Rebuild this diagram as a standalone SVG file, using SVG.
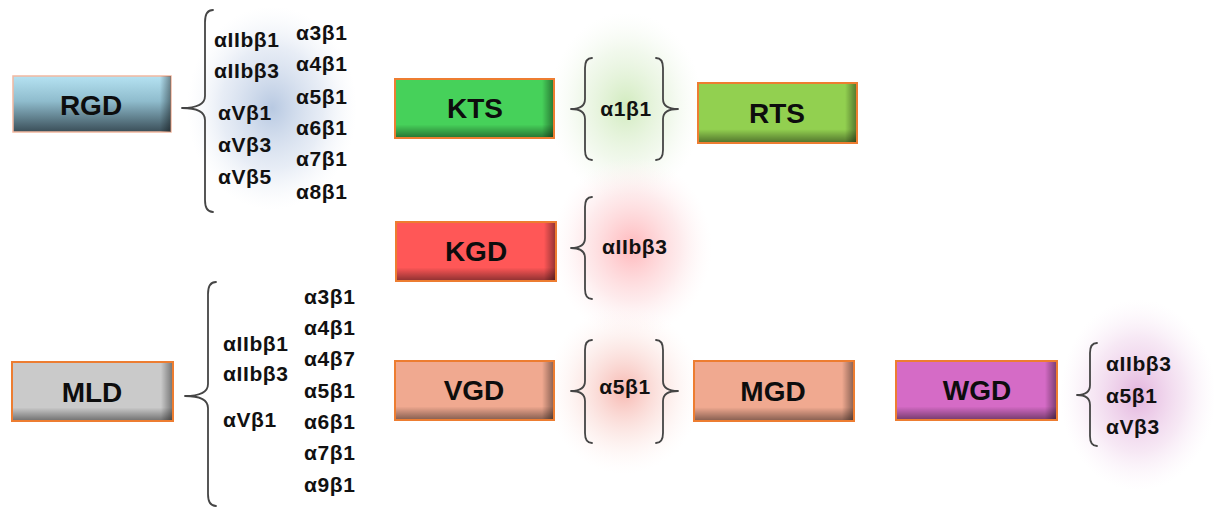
<svg xmlns="http://www.w3.org/2000/svg" width="1214" height="508" viewBox="0 0 1214 508">
  <defs>
    <!-- box fills -->
    <linearGradient id="gRgd" x1="0" y1="0" x2="0" y2="1">
      <stop offset="0" stop-color="#b5e2f2"/>
      <stop offset="0.45" stop-color="#8fbccd"/>
      <stop offset="1" stop-color="#3a4e58"/>
    </linearGradient>
    <!-- bevel shading shared by all boxes -->
    <linearGradient id="shadeV" x1="0" y1="0" x2="0" y2="1">
      <stop offset="0" stop-color="#000" stop-opacity="0"/>
      <stop offset="0.78" stop-color="#000" stop-opacity="0"/>
      <stop offset="1" stop-color="#000" stop-opacity="0.42"/>
    </linearGradient>
    <linearGradient id="shadeH" x1="0" y1="0" x2="1" y2="0">
      <stop offset="0" stop-color="#000" stop-opacity="0"/>
      <stop offset="0.93" stop-color="#000" stop-opacity="0"/>
      <stop offset="1" stop-color="#000" stop-opacity="0.4"/>
    </linearGradient>
    <!-- soft halos behind the integrin lists -->
    <radialGradient id="haloBlue">
      <stop offset="0" stop-color="#b4c6e0" stop-opacity="0.95"/>
      <stop offset="0.6" stop-color="#d4deee" stop-opacity="0.55"/>
      <stop offset="1" stop-color="#eef2f8" stop-opacity="0"/>
    </radialGradient>
    <radialGradient id="haloGreen">
      <stop offset="0" stop-color="#cfeabb" stop-opacity="0.95"/>
      <stop offset="0.6" stop-color="#e8f4e0" stop-opacity="0.6"/>
      <stop offset="1" stop-color="#f5faf2" stop-opacity="0"/>
    </radialGradient>
    <radialGradient id="haloRed">
      <stop offset="0" stop-color="#ffb4b8" stop-opacity="0.95"/>
      <stop offset="0.6" stop-color="#fde0e2" stop-opacity="0.65"/>
      <stop offset="1" stop-color="#fff4f5" stop-opacity="0"/>
    </radialGradient>
    <radialGradient id="haloSalmon">
      <stop offset="0" stop-color="#f6b0a8" stop-opacity="0.9"/>
      <stop offset="0.6" stop-color="#fbe2de" stop-opacity="0.55"/>
      <stop offset="1" stop-color="#fff5f3" stop-opacity="0"/>
    </radialGradient>
    <radialGradient id="haloPurple">
      <stop offset="0" stop-color="#e2b0dc" stop-opacity="0.95"/>
      <stop offset="0.6" stop-color="#f2dcef" stop-opacity="0.65"/>
      <stop offset="1" stop-color="#faf0f9" stop-opacity="0"/>
    </radialGradient>
    <style>
      .box { stroke: #ed7d31; stroke-width: 2; }
      .bevel { stroke: none; }
      .lbl { font-family: "Liberation Sans", Arial, sans-serif; font-weight: bold; font-size: 28px; fill: #0d0d0d; text-anchor: middle; }
      .itg { font-family: "Liberation Sans", Arial, sans-serif; font-weight: bold; font-size: 21px; letter-spacing: 0.6px; fill: #111; }
      .mid { text-anchor: middle; }
      .brace { fill: none; stroke: #454545; stroke-width: 1.8; stroke-linecap: round; stroke-linejoin: round; }
    </style>
  </defs>

  <rect width="1214" height="508" fill="#ffffff"/>

  <!-- halos -->
  <g id="halos">
    <ellipse cx="272" cy="108" rx="85" ry="102" fill="url(#haloBlue)"/>
    <ellipse cx="626" cy="106" rx="77" ry="94" fill="url(#haloGreen)"/>
    <ellipse cx="632" cy="247" rx="80" ry="90" fill="url(#haloRed)"/>
    <ellipse cx="624" cy="390" rx="78" ry="84" fill="url(#haloSalmon)"/>
    <ellipse cx="1138" cy="395" rx="78" ry="96" fill="url(#haloPurple)"/>
  </g>

  <!-- braces linking each motif to its integrins -->
  <g id="connectors">
    <!-- RGD -->
    <path class="brace" d="M213 10 Q205 10 205 22 L205 96 Q205 108 182 108 Q205 108 205 120 L205 200 Q205 212 213 212"/>
    <!-- KTS / RTS -->
    <path class="brace" d="M592 58 Q585 58 585 68 L585 99 Q585 109 571 109 Q585 109 585 119 L585 150 Q585 160 592 160"/>
    <path class="brace" d="M656 58 Q663 58 663 68 L663 99 Q663 109 678 109 Q663 109 663 119 L663 150 Q663 160 656 160"/>
    <!-- KGD -->
    <path class="brace" d="M592 197 Q585 197 585 207 L585 238 Q585 248 571 248 Q585 248 585 258 L585 289 Q585 299 592 299"/>
    <!-- VGD / MGD -->
    <path class="brace" d="M592 340 Q585 340 585 350 L585 381 Q585 391 571 391 Q585 391 585 401 L585 433 Q585 443 592 443"/>
    <path class="brace" d="M656 340 Q663 340 663 350 L663 381 Q663 391 678 391 Q663 391 663 401 L663 433 Q663 443 656 443"/>
    <!-- MLD -->
    <path class="brace" d="M216 282 Q208 282 208 294 L208 384 Q208 396 185 396 Q208 396 208 408 L208 494 Q208 506 216 506"/>
    <!-- WGD -->
    <path class="brace" d="M1097 343 Q1090 343 1090 353 L1090 385 Q1090 395 1077 395 Q1090 395 1090 405 L1090 436 Q1090 446 1097 446"/>
  </g>

  <g id="node-rgd">
    <rect x="13" y="76" width="158" height="56" fill="url(#gRgd)" stroke="#f2b8a0" stroke-width="1.5"/>
    <rect class="bevel" x="13" y="76" width="158" height="56" fill="url(#shadeH)"/>
    <text class="lbl" x="91" y="115">RGD</text>
  </g>
  <g id="integrins-rgd" class="itg">
    <text x="214" y="47">αIIbβ1</text>
    <text x="214" y="78">αIIbβ3</text>
    <text x="218" y="120">αVβ1</text>
    <text x="218" y="152">αVβ3</text>
    <text x="218" y="184">αVβ5</text>
    <text x="296" y="40">α3β1</text>
    <text x="296" y="71">α4β1</text>
    <text x="296" y="104">α5β1</text>
    <text x="296" y="135">α6β1</text>
    <text x="296" y="166">α7β1</text>
    <text x="296" y="199">α8β1</text>
  </g>

  <g id="node-kts">
    <rect class="box" x="395" y="79" width="159" height="59" fill="#46d15a"/>
    <rect class="bevel" x="396" y="80" width="157" height="57" fill="url(#shadeV)"/>
    <rect class="bevel" x="396" y="80" width="157" height="57" fill="url(#shadeH)"/>
    <text class="lbl" x="475" y="118">KTS</text>
  </g>
  <g id="integrins-kts-rts" class="itg">
    <text class="mid" x="626" y="116">α1β1</text>
  </g>
  <g id="node-rts">
    <rect class="box" x="698" y="83" width="159" height="60" fill="#92d050"/>
    <rect class="bevel" x="699" y="84" width="157" height="58" fill="url(#shadeV)"/>
    <rect class="bevel" x="699" y="84" width="157" height="58" fill="url(#shadeH)"/>
    <text class="lbl" x="777" y="123">RTS</text>
  </g>

  <g id="node-kgd">
    <rect class="box" x="396" y="222" width="160" height="59" fill="#ff5757"/>
    <rect class="bevel" x="397" y="223" width="158" height="57" fill="url(#shadeV)"/>
    <rect class="bevel" x="397" y="223" width="158" height="57" fill="url(#shadeH)"/>
    <text class="lbl" x="476" y="261">KGD</text>
  </g>
  <g id="integrins-kgd" class="itg">
    <text x="602" y="254">αIIbβ3</text>
  </g>

  <g id="node-mld">
    <rect class="box" x="12" y="362" width="161" height="59" fill="#cacaca"/>
    <rect class="bevel" x="13" y="363" width="159" height="57" fill="url(#shadeV)"/>
    <rect class="bevel" x="13" y="363" width="159" height="57" fill="url(#shadeH)"/>
    <text class="lbl" x="92" y="402">MLD</text>
  </g>
  <g id="integrins-mld" class="itg">
    <text x="223" y="351">αIIbβ1</text>
    <text x="223" y="381">αIIbβ3</text>
    <text x="223" y="427">αVβ1</text>
    <text x="304" y="304">α3β1</text>
    <text x="304" y="335">α4β1</text>
    <text x="304" y="366">α4β7</text>
    <text x="304" y="398">α5β1</text>
    <text x="304" y="429">α6β1</text>
    <text x="304" y="460">α7β1</text>
    <text x="304" y="492">α9β1</text>
  </g>

  <g id="node-vgd">
    <rect class="box" x="395" y="361" width="159" height="59" fill="#f0a990"/>
    <rect class="bevel" x="396" y="362" width="157" height="57" fill="url(#shadeV)"/>
    <rect class="bevel" x="396" y="362" width="157" height="57" fill="url(#shadeH)"/>
    <text class="lbl" x="474" y="400">VGD</text>
  </g>
  <g id="integrins-vgd-mgd" class="itg">
    <text class="mid" x="625" y="394">α5β1</text>
  </g>
  <g id="node-mgd">
    <rect class="box" x="694" y="361" width="160" height="60" fill="#f0a990"/>
    <rect class="bevel" x="695" y="362" width="158" height="58" fill="url(#shadeV)"/>
    <rect class="bevel" x="695" y="362" width="158" height="58" fill="url(#shadeH)"/>
    <text class="lbl" x="773" y="401">MGD</text>
  </g>

  <g id="node-wgd">
    <rect class="box" x="896" y="361" width="161" height="59" fill="#d56bc6"/>
    <rect class="bevel" x="897" y="362" width="159" height="57" fill="url(#shadeV)"/>
    <rect class="bevel" x="897" y="362" width="159" height="57" fill="url(#shadeH)"/>
    <text class="lbl" x="977" y="400">WGD</text>
  </g>
  <g id="integrins-wgd" class="itg">
    <text x="1106" y="371">αIIbβ3</text>
    <text x="1106" y="403">α5β1</text>
    <text x="1106" y="434">αVβ3</text>
  </g>
</svg>
